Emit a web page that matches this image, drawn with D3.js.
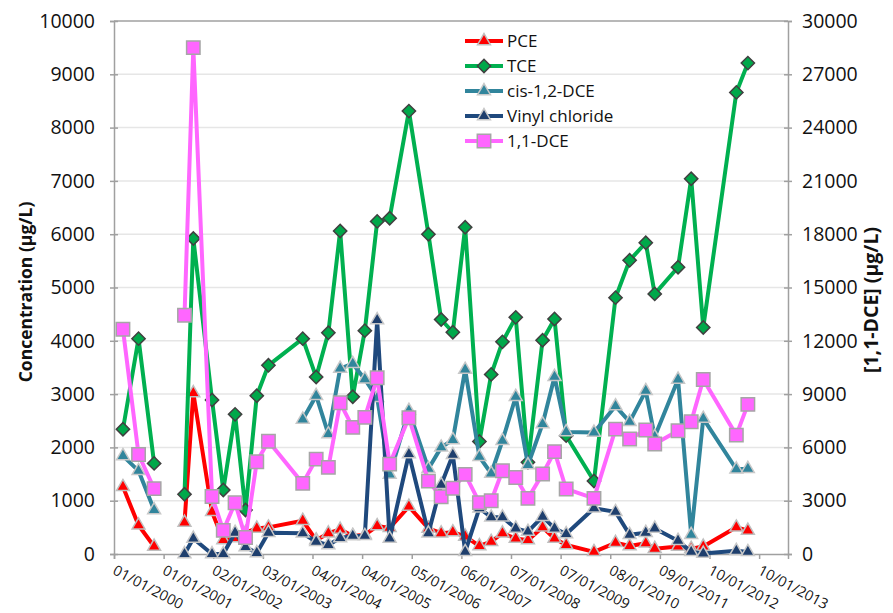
<!DOCTYPE html>
<html><head><meta charset="utf-8">
<script src="https://cdn.jsdelivr.net/npm/d3@7"></script>
<style>
body{margin:0;background:#fff;}
svg{display:block;font-family:"Open Sans",sans-serif;}
</style>
</head><body>
<svg id="chart" width="893" height="613"></svg>
<script>
// ---- data ----
const sampleDates = ["2000-03-07","2000-06-30","2000-10-23","2001-02-15","2001-06-04","2001-08-08","2001-12-24","2002-03-17","2002-06-12","2002-08-28","2002-11-19","2003-02-13","2003-10-24","2004-01-31","2004-04-30","2004-07-26","2004-10-27","2005-01-24","2005-04-25","2005-07-26","2005-12-15","2006-05-08","2006-08-10","2006-11-04","2007-02-03","2007-05-19","2007-08-14","2007-11-05","2008-02-11","2008-05-11","2008-08-27","2008-11-23","2009-02-17","2009-09-10","2010-02-16","2010-05-31","2010-09-27","2010-12-02","2011-05-23","2011-08-28","2011-11-25","2012-07-26","2012-10-19"];
const pce  = [1260,540,140,null,590,3020,790,260,300,400,480,500,625,260,390,460,340,360,525,490,890,480,390,410,330,150,230,390,290,260,500,290,170,40,210,150,200,100,140,100,140,500,440];
const tce  = [2340,4040,1700,null,1120,5920,2890,1200,2620,825,2970,3540,4040,3320,4150,6060,2950,4190,6240,6300,8310,6000,4400,4160,6130,2110,3370,3980,4440,1720,4010,4410,2220,1370,4810,5510,5840,4880,5380,7040,4250,8660,9210];
const cisDCE = [1840,1560,825,null,null,null,null,null,null,null,null,null,2525,2970,2250,3480,3570,3280,2930,1490,2690,1600,2000,2140,3460,1825,1510,2125,2950,1670,2440,3325,2290,2280,2775,2480,3060,2200,3275,360,2540,1590,1600];
const vinylChloride = [null,null,null,null,0,290,0,0,400,130,20,400,390,230,170,300,340,340,4390,290,1875,390,1300,1860,40,860,690,690,480,420,700,480,375,860,790,360,400,480,250,40,10,60,40];
const dce11 = [12650,5600,3680,null,13440,28500,3240,1330,2880,930,5190,6350,3975,5340,4875,8510,7125,7690,9920,5060,7670,4100,3225,3700,4480,2890,3000,4690,4310,3130,4500,5760,3660,3130,7030,6470,6980,6190,6940,7440,9825,6690,8420];

const seriesNames = ["PCE","TCE","cis-1,2-DCE","Vinyl chloride","1,1-DCE"];
const xTickLabels = ["01/01/2000","01/01/2001","02/01/2002","03/01/2003","04/01/2004","04/01/2005","05/01/2006","06/01/2007","07/01/2008","07/01/2009","08/01/2010","09/01/2011","10/01/2012","10/01/2013"];
const xDomain = ["2000-01-01","2013-08-11"];
const leftTicks = [0,1000,2000,3000,4000,5000,6000,7000,8000,9000,10000];
const rightTicks = [0,3000,6000,9000,12000,15000,18000,21000,24000,27000,30000];
const leftTitle = "Concentration (µg/L)";
const rightTitle = "[1,1-DCE] (µg/L)";

// ---- setup ----
const svg = d3.select("#chart");
const parseISO = d3.utcParse("%Y-%m-%d");
const parseTick = d3.utcParse("%d/%m/%Y");
const L = 114, R = 788, T = 21, B = 554;

const x = d3.scaleUtc().domain(xDomain.map(parseISO)).range([L, R]);
const yL = d3.scaleLinear().domain([0, 10000]).range([B, T]);
const yR = d3.scaleLinear().domain([0, 30000]).range([B, T]);

const axisColor = "#a0a0a0";
const textColor = "#111";

// gridlines
svg.append("g").selectAll("line").data(leftTicks.slice(1, -1)).join("line")
  .attr("x1", L).attr("x2", R).attr("y1", d => yL(d)).attr("y2", d => yL(d))
  .attr("stroke", "#e6e6e6").attr("stroke-width", 1.5);
// top border
svg.append("line").attr("x1", L).attr("x2", R).attr("y1", T).attr("y2", T)
  .attr("stroke", axisColor).attr("stroke-width", 1.5);

// left axis
const gL = svg.append("g").attr("transform", `translate(${L},0)`)
  .call(d3.axisLeft(yL).tickValues(leftTicks).tickFormat(d3.format("d")).tickSize(4).tickPadding(15));
gL.selectAll("line").clone(true).attr("x2", 4);
// right axis
const gR = svg.append("g").attr("transform", `translate(${R},0)`)
  .call(d3.axisRight(yR).tickValues(rightTicks).tickFormat(d3.format("d")).tickSize(4).tickPadding(10));
gR.selectAll("line").clone(true).attr("x2", -4);
// x axis
const xTickDates = xTickLabels.map(parseTick);
const gX = svg.append("g").attr("transform", `translate(0,${B})`)
  .call(d3.axisBottom(x).tickValues(xTickDates).tickFormat((d, i) => xTickLabels[i]).tickSize(5));

[gL, gR, gX].forEach(g => {
  g.select(".domain").attr("stroke", axisColor).attr("stroke-width", 1.5);
  g.selectAll(".tick line").attr("stroke", axisColor).attr("stroke-width", 1.5);
  g.selectAll("text").attr("fill", textColor).style("font-family", '"Open Sans",sans-serif');
});
gL.selectAll("text").style("font-size", "19.5px");
gR.selectAll("text").style("font-size", "19.5px").attr("text-anchor", "start");
gX.selectAll("text").style("font-size", "14.5px")
  .attr("text-anchor", "start").attr("dy", null).attr("y", 0)
  .attr("transform", "translate(3,9) rotate(28)")
  .attr("dominant-baseline", "hanging");

// titles
svg.append("text").attr("transform", `translate(32,292) rotate(-90)`)
  .attr("text-anchor", "middle").style("font-size", "17.5px").style("font-weight", "bold")
  .attr("fill", textColor).text(leftTitle);
svg.append("text").attr("transform", `translate(878,300) rotate(-90)`)
  .attr("text-anchor", "middle").style("font-size", "19.5px").style("font-weight", "bold")
  .attr("fill", textColor).text(rightTitle);

// ---- series ----
const tri = d3.symbol().type(d3.symbolTriangle).size(72)();
const dia = d3.symbol().type(d3.symbolSquare).size(88)();
const sq = d3.symbol().type(d3.symbolSquare).size(180)();
const series = [
  {name: seriesNames[0], values: pce, y: yL, color: "#ff0000", mk: tri, mfill: "#ff0000", mstroke: "#bfbfbf", rot: 0},
  {name: seriesNames[1], values: tce, y: yL, color: "#00b050", mk: dia, mfill: "#00a84a", mstroke: "#404040", rot: 45},
  {name: seriesNames[2], values: cisDCE, y: yL, color: "#31859c", mk: tri, mfill: "#31859c", mstroke: "#c8c8c8", rot: 0},
  {name: seriesNames[3], values: vinylChloride, y: yL, color: "#1f497d", mk: tri, mfill: "#1f3f6d", mstroke: "#c8c8c8", rot: 0},
  {name: seriesNames[4], values: dce11, y: yR, color: "#ff66ff", mk: sq, mfill: "#ff66ff", mstroke: "#a6a6a6", rot: 0}
];
const dates = sampleDates.map(parseISO);

series.forEach(s => {
  const pts = dates.map((d, i) => ({d, v: s.values[i]}));
  const line = d3.line().defined(p => p.v != null).x(p => x(p.d)).y(p => s.y(p.v));
  const g = svg.append("g");
  g.append("path").datum(pts).attr("d", line).attr("fill", "none")
    .attr("stroke", s.color).attr("stroke-width", 4).attr("stroke-linejoin", "round");
  g.selectAll("path.m").data(pts.filter(p => p.v != null)).join("path").attr("class", "m")
    .attr("d", s.mk)
    .attr("transform", p => `translate(${x(p.d)},${s.y(p.v)}) rotate(${s.rot})`)
    .attr("fill", s.mfill).attr("stroke", s.mstroke).attr("stroke-width", 1.5);
});

// ---- legend ----
const lg = svg.append("g").attr("transform", "translate(465,41)");
series.forEach((s, i) => {
  const row = lg.append("g").attr("transform", `translate(0,${i * 25})`);
  row.append("line").attr("x1", 0).attr("x2", 38).attr("y1", 0).attr("y2", 0)
    .attr("stroke", s.color).attr("stroke-width", 4);
  row.append("path").attr("d", s.mk).attr("transform", `translate(19,0) rotate(${s.rot})`)
    .attr("fill", s.mfill).attr("stroke", s.mstroke).attr("stroke-width", 1.5);
  row.append("text").attr("x", 42).attr("y", 0).attr("dy", "0.35em")
    .style("font-size", "17px").attr("fill", textColor).text(s.name);
});
</script>
</body></html>
